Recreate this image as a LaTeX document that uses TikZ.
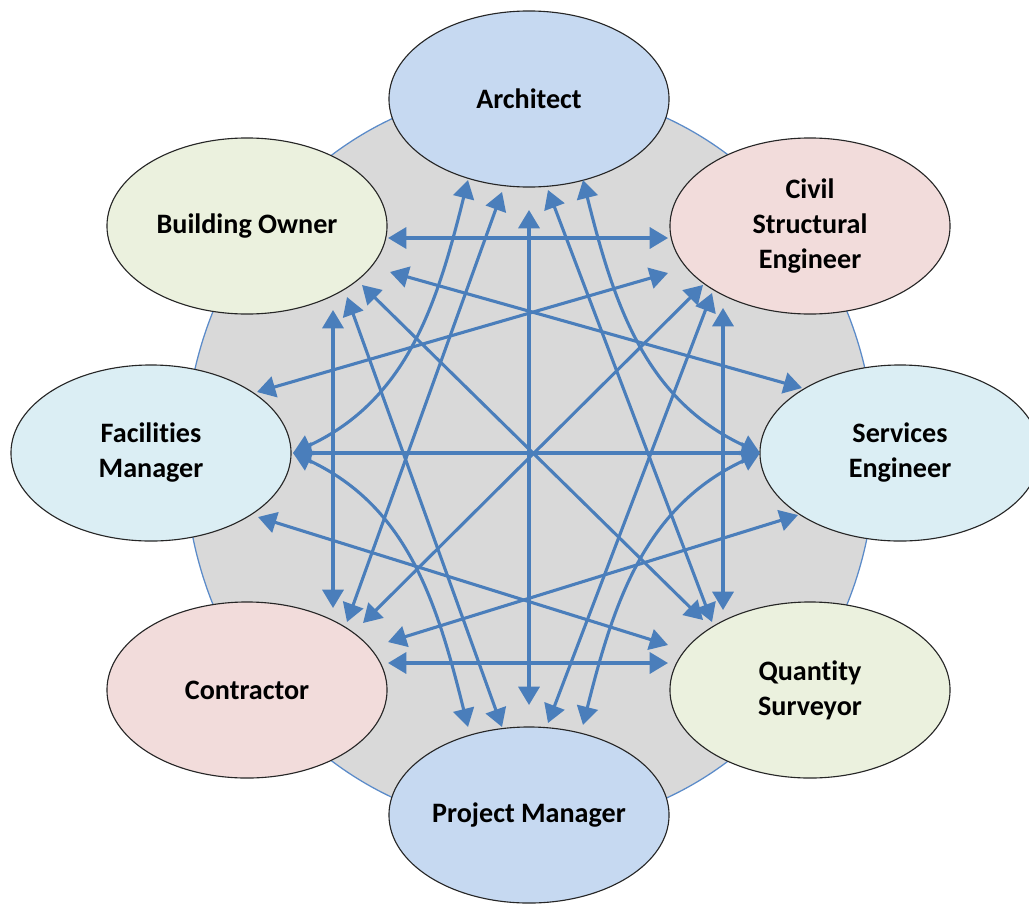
\documentclass[tikz,border=0pt]{standalone}
\usepackage{fontspec}
\setmainfont{Carlito}[Ligatures=NoCommon]
\usetikzlibrary{shapes.geometric}
\usetikzlibrary{calc}
\usetikzlibrary{arrows.meta}

\definecolor{linkblue}{HTML}{4A7EBB}
\definecolor{rimblue}{HTML}{5B8BC9}
\definecolor{hubgray}{HTML}{D9D9D9}
\definecolor{archblue}{HTML}{C6D9F1}
\definecolor{ownergreen}{HTML}{EBF1DE}
\definecolor{civilpink}{HTML}{F2DCDB}
\definecolor{servcyan}{HTML}{DBEEF4}

\begin{document}
\begin{tikzpicture}[x=0.025cm,y=-0.025cm,
    party/.style={ellipse,draw=black!85,line width=0.8pt,minimum width=7cm,minimum height=4.4cm,
        inner sep=0pt,align=center,font=\fontsize{20}{24.9}\selectfont\bfseries},
    link/.style={draw=linkblue,line width=2.2pt,{Triangle[length=13pt,width=15pt]}-{Triangle[length=13pt,width=15pt]}}]
    \useasboundingbox (0,0) rectangle (1029,907);

    \draw[draw=rimblue,fill=hubgray,line width=0.9pt] (530,458) ellipse [x radius=8.625cm, y radius=9.25cm];

    \node[party,fill=archblue]   (arch)  at (529,99)  {Architect};
    \node[party,fill=ownergreen] (owner) at (247,226) {Building Owner};
    \node[party,fill=civilpink]  (civil) at (810,226) {Civil\\Structural\\Engineer};
    \node[party,fill=servcyan]   (fac)   at (151,453) {Facilities\\Manager};
    \node[party,fill=servcyan]   (serv)  at (900,453) {Services\\Engineer};
    \node[party,fill=civilpink]  (contr) at (247,690) {Contractor};
    \node[party,fill=ownergreen] (qs)    at (810,690) {Quantity\\Surveyor};
    \node[party,fill=archblue]   (pm)    at (529,815) {Project Manager};

    \draw[link] ($(arch)+(-61,81)$) to[out=-104,in=25] ($(fac)+(142,0)$);
    \draw[link] ($(arch)+(54,81)$) to[out=-76,in=155] ($(serv)+(-140,0)$);
    \draw[link] ($(pm)+(-61,-88)$) to[out=104,in=-25] ($(fac)+(142,0)$);
    \draw[link] ($(pm)+(54,-90)$) to[out=76,in=-155] ($(serv)+(-140,0)$);

    \draw[link] ($(owner)+(141,12)$) -- ($(civil)+(-142,12)$);
    \draw[link] ($(owner)+(143,46)$) -- ($(serv)+(-98,-65)$);
    \draw[link] ($(owner)+(115,59)$) -- ($(qs)+(-107,-70)$);
    \draw[link] ($(owner)+(100,71)$) -- ($(pm)+(-27,-88)$);
    \draw[link] ($(owner)+(86,84)$) -- ($(contr)+(86,-82)$);
    \draw[link] ($(civil)+(-142,47)$) -- ($(fac)+(106,-61)$);
    \draw[link] ($(civil)+(-107,59)$) -- ($(contr)+(116,-67)$);
    \draw[link] ($(civil)+(-98,67)$) -- ($(pm)+(19,-92)$);
    \draw[link] ($(civil)+(-87,82)$) -- ($(qs)+(-87,-80)$);
    \draw[link] ($(arch)+(-27,93)$) -- ($(contr)+(100,-68)$);
    \draw[link] ($(arch)+(0,111)$) -- ($(pm)+(0,-110)$);
    \draw[link] ($(arch)+(19,91)$) -- ($(qs)+(-98,-68)$);
    \draw[link] ($(fac)+(142,0)$) -- ($(serv)+(-140,0)$);
    \draw[link] ($(fac)+(107,64)$) -- ($(qs)+(-142,-45)$);
    \draw[link] ($(serv)+(-102,62)$) -- ($(contr)+(141,-48)$);
    \draw[link] ($(contr)+(141,-27)$) -- ($(qs)+(-142,-27)$);
\end{tikzpicture}
\end{document}
